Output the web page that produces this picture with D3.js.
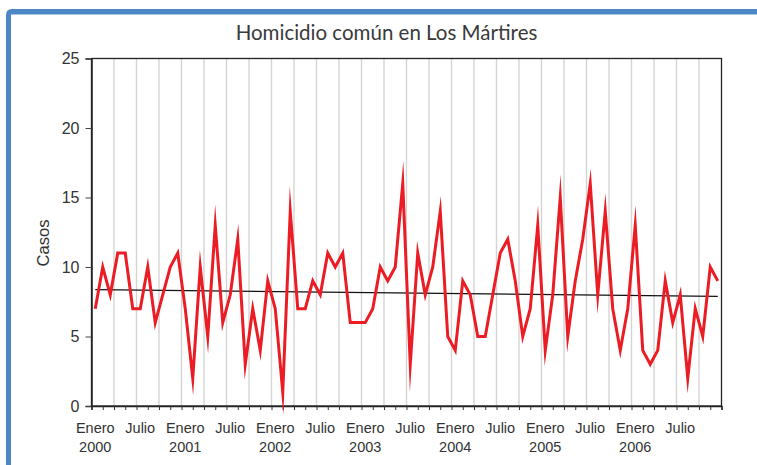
<!DOCTYPE html>
<html>
<head>
<meta charset="utf-8">
<script src="https://cdn.jsdelivr.net/npm/d3@7/dist/d3.min.js"></script>
<style>
  html, body { margin: 0; padding: 0; background: #fff; }
  svg { display: block; }
</style>
</head>
<body>
<svg id="chart" width="757" height="465"></svg>
<script>
// Monthly homicide counts, January 2000 – December 2006
const years = ["2000", "2001", "2002", "2003", "2004", "2005", "2006"];
const monthNames = ["Enero", "Febrero", "Marzo", "Abril", "Mayo", "Junio",
                    "Julio", "Agosto", "Septiembre", "Octubre", "Noviembre", "Diciembre"];
const categories = years.flatMap(y => monthNames.map(m => m + " " + y));

const casos = [
  7, 10, 8, 11, 11, 7, 7, 10, 6, 8, 10, 11,      // 2000
  7, 2, 10, 5, 13, 6, 8, 12, 3, 7, 4, 9,          // 2001
  7, 1, 14, 7, 7, 9, 8, 11, 10, 11, 6, 6,         // 2002
  6, 7, 10, 9, 10, 16, 3, 11, 8, 10, 14, 5,       // 2003
  4, 9, 8, 5, 5, 8, 11, 12, 9, 5, 7, 13,          // 2004
  4, 8, 15, 5, 9, 12, 16, 8, 14, 7, 4, 7,         // 2005
  13, 4, 3, 4, 9, 6, 8, 2, 7, 5, 10, 9            // 2006
];

const yTicks = [0, 5, 10, 15, 20, 25];
const xTickLabels = ["Enero", "Julio"];
const chartTitle = "Homicidio común en Los Mártires";
const yTitle = "Casos";

const svg = d3.select("#chart");

// blue frame along the top and left edges
const frameColor = "#4d87c7";
svg.append("path")
  .attr("d", "M6,465 L6,15 Q6,9 12,9 L757,9 L757,14.5 L11,14.5 L11,465 Z")
  .attr("fill", frameColor);

const plotLeft = 91.5, plotRight = 721.5, plotBottom = 406, plotTop = 58.5;
const n = casos.length;

const x = d3.scaleLinear().domain([0, n]).range([plotLeft, plotRight]);
const y = d3.scaleLinear().domain([0, 25]).range([plotBottom, plotTop]);

// vertical gridlines every quarter
svg.append("g")
  .selectAll("line")
  .data(d3.range(3, n, 3))
  .join("line")
  .attr("x1", d => x(d)).attr("x2", d => x(d))
  .attr("y1", plotTop).attr("y2", plotBottom)
  .attr("stroke", "#d4d4d4")
  .attr("stroke-width", 1.4);

// plot frame
svg.append("rect")
  .attr("x", plotLeft).attr("y", plotTop)
  .attr("width", plotRight - plotLeft).attr("height", plotBottom - plotTop)
  .attr("fill", "none")
  .attr("stroke", "#222")
  .attr("stroke-width", 1.3);

// y axis
const yAxis = svg.append("g")
  .attr("transform", `translate(${plotLeft},0)`)
  .call(d3.axisLeft(y).tickValues(yTicks).tickSize(6).tickPadding(6));
yAxis.select(".domain").attr("stroke", "#222").attr("stroke-width", 1.5);
yAxis.selectAll(".tick line").attr("stroke", "#444");
yAxis.selectAll("text")
  .attr("font-family", "'Liberation Sans', Arial, sans-serif")
  .attr("font-size", 16)
  .attr("fill", "#333");

// x axis: small ticks every month and a half
const xAxis = svg.append("g")
  .attr("transform", `translate(0,${plotBottom})`)
  .call(d3.axisBottom(x).tickValues(d3.range(0, n + 0.01, 1.5)).tickSize(4).tickFormat(""));
xAxis.select(".domain").attr("stroke", "#222").attr("stroke-width", 1.5);
xAxis.selectAll(".tick line").attr("stroke", "#333");

// month / year labels
const labelMonths = d3.range(0, n, 6);
const labels = svg.append("g")
  .attr("font-family", "'Liberation Sans', Arial, sans-serif")
  .attr("font-size", 14.5)
  .attr("fill", "#333")
  .attr("text-anchor", "middle");
labels.selectAll("text.mes")
  .data(labelMonths)
  .join("text")
  .attr("class", "mes")
  .attr("x", d => x(d + 0.5))
  .attr("y", 433)
  .text(d => xTickLabels[(d % 12) / 6]);
labels.selectAll("text.anio")
  .data(labelMonths.filter(d => d % 12 === 0))
  .join("text")
  .attr("class", "anio")
  .attr("x", d => x(d + 0.5))
  .attr("y", 451.5)
  .text(d => years[d / 12]);

// linear trend (least squares)
const idx = d3.range(n);
const mx = d3.mean(idx), my = d3.mean(casos);
const slope = d3.sum(idx, i => (i - mx) * (casos[i] - my)) / d3.sum(idx, i => (i - mx) * (i - mx));
const intercept = my - slope * mx;
svg.append("line")
  .attr("x1", x(0.5)).attr("y1", y(intercept))
  .attr("x2", x(n - 0.5)).attr("y2", y(intercept + slope * (n - 1)))
  .attr("stroke", "#111")
  .attr("stroke-width", 1.3);

// monthly series
const line = d3.line()
  .x((d, i) => x(i + 0.5))
  .y(d => y(d));
svg.append("path")
  .datum(casos)
  .attr("d", line)
  .attr("fill", "none")
  .attr("stroke", "#ec1c24")
  .attr("stroke-width", 3)
  .attr("stroke-linejoin", "miter")
  .attr("stroke-miterlimit", 60);

// titles
svg.append("text")
  .attr("x", 386.5)
  .attr("y", 40)
  .attr("text-anchor", "middle")
  .attr("font-family", "Lato, 'Open Sans', sans-serif")
  .attr("font-size", 20.5)
  .attr("fill", "#3a3a3a")
  .text(chartTitle);

svg.append("text")
  .attr("transform", "translate(49,243) rotate(-90)")
  .attr("text-anchor", "middle")
  .attr("font-family", "'Liberation Sans', Arial, sans-serif")
  .attr("font-size", 16.5)
  .attr("fill", "#333")
  .text(yTitle);
</script>
</body>
</html>
